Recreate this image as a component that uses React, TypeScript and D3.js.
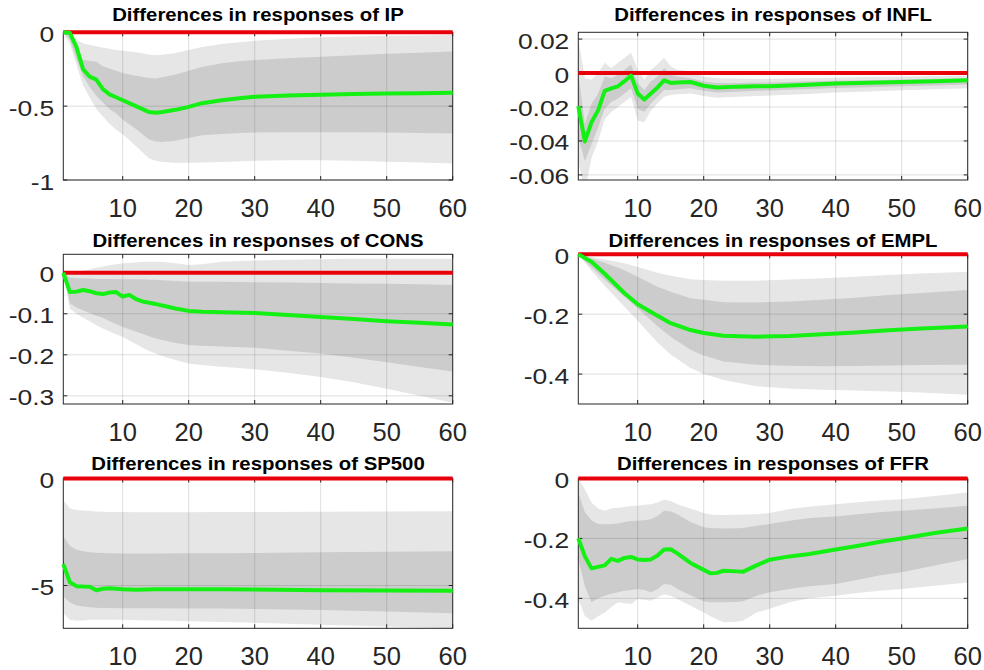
import React from "react";
import * as d3 from "d3";

// ---- impulse response differences: median and 68% / 90% bands ----

const ipTitle = "Differences in responses of IP";
const ipH = [1, 2, 3, 4, 5, 6, 7, 8, 9, 10, 12, 14, 15, 16, 18, 20, 22, 25, 28, 30, 35, 40, 45, 50, 55, 60];
const ipMid = [0, -0.005, -0.1, -0.25, -0.3, -0.32, -0.385, -0.42, -0.44, -0.46, -0.5, -0.54, -0.545, -0.54, -0.525, -0.505, -0.48, -0.46, -0.445, -0.437, -0.428, -0.422, -0.418, -0.414, -0.412, -0.41];
const ipHi68 = [0, -0.03, -0.12, -0.185, -0.195, -0.2, -0.23, -0.245, -0.26, -0.275, -0.295, -0.31, -0.312, -0.305, -0.285, -0.26, -0.235, -0.21, -0.195, -0.188, -0.175, -0.165, -0.155, -0.145, -0.138, -0.13];
const ipLo68 = [0, -0.05, -0.18, -0.3, -0.37, -0.43, -0.475, -0.52, -0.55, -0.59, -0.655, -0.725, -0.74, -0.742, -0.735, -0.715, -0.697, -0.688, -0.682, -0.678, -0.677, -0.677, -0.677, -0.678, -0.682, -0.685];
const ipHi90 = [0, -0.02, -0.05, -0.075, -0.085, -0.095, -0.105, -0.112, -0.12, -0.125, -0.135, -0.15, -0.155, -0.152, -0.14, -0.12, -0.1, -0.08, -0.065, -0.057, -0.043, -0.034, -0.028, -0.024, -0.021, -0.018];
const ipLo90 = [0, -0.08, -0.22, -0.36, -0.44, -0.52, -0.57, -0.62, -0.66, -0.69, -0.77, -0.855, -0.87, -0.878, -0.883, -0.884, -0.882, -0.878, -0.873, -0.87, -0.866, -0.866, -0.87, -0.876, -0.882, -0.888];
const ipDomain = [-1, 0];
const ipTicks = [-1, -0.5, 0];

const inflTitle = "Differences in responses of INFL";
const inflH = [1, 2, 3, 4, 5, 6, 7, 8, 9, 10, 11, 12, 13, 14, 15, 16, 18, 20, 22, 25, 28, 30, 35, 40, 45, 50, 55, 60];
const inflMid = [-0.0195, -0.0403, -0.029, -0.022, -0.0105, -0.009, -0.0078, -0.0048, -0.0015, -0.012, -0.0156, -0.012, -0.0085, -0.0043, -0.0058, -0.0055, -0.0053, -0.0075, -0.0085, -0.008, -0.0078, -0.0078, -0.007, -0.0062, -0.0057, -0.0053, -0.0048, -0.0043];
const inflHi68 = [0.0, -0.03, -0.018, -0.012, -0.002, -0.003, -0.001, 0.002, 0.005, -0.006, -0.01, -0.005, -0.002, 0.003, -0.001, -0.002, -0.003, -0.005, -0.0058, -0.0058, -0.0056, -0.0055, -0.005, -0.0045, -0.0042, -0.0038, -0.0034, -0.003];
const inflLo68 = [-0.038, -0.052, -0.042, -0.032, -0.021, -0.017, -0.015, -0.012, -0.009, -0.021, -0.023, -0.018, -0.014, -0.01, -0.01, -0.0095, -0.009, -0.0105, -0.0115, -0.011, -0.0105, -0.0103, -0.0095, -0.0088, -0.0083, -0.0078, -0.0073, -0.0068];
const inflHi90 = [0.02, -0.003, -0.004, 0.0, 0.006, 0.003, 0.006, 0.009, 0.012, 0.002, -0.004, 0.002, 0.005, 0.009, 0.004, 0.002, 0.001, -0.002, -0.003, -0.0032, -0.0033, -0.0033, -0.003, -0.0027, -0.0024, -0.0021, -0.0018, -0.0015];
const inflLo90 = [-0.052, -0.07, -0.05, -0.04, -0.027, -0.023, -0.02, -0.017, -0.014, -0.028, -0.029, -0.022, -0.018, -0.014, -0.013, -0.0125, -0.012, -0.0135, -0.0145, -0.014, -0.0135, -0.0133, -0.0125, -0.0115, -0.0108, -0.0101, -0.0095, -0.009];
const inflDomain = [-0.063, 0.024];
const inflTicks = [-0.06, -0.04, -0.02, 0, 0.02];

const consTitle = "Differences in responses of CONS";
const consH = [1, 2, 3, 4, 5, 6, 7, 8, 9, 10, 11, 12, 13, 14, 15, 16, 18, 20, 22, 25, 30, 35, 40, 45, 50, 55, 60];
const consMid = [0, -0.047, -0.046, -0.042, -0.045, -0.05, -0.052, -0.048, -0.047, -0.058, -0.054, -0.064, -0.07, -0.073, -0.076, -0.08, -0.087, -0.093, -0.095, -0.096, -0.098, -0.103, -0.108, -0.113, -0.118, -0.122, -0.126];
const consHi68 = [0, -0.012, -0.013, -0.014, -0.014, -0.015, -0.015, -0.015, -0.015, -0.016, -0.016, -0.016, -0.016, -0.017, -0.017, -0.018, -0.02, -0.022, -0.022, -0.022, -0.023, -0.024, -0.025, -0.026, -0.027, -0.028, -0.03];
const consLo68 = [0, -0.075, -0.085, -0.092, -0.098, -0.105, -0.11, -0.118, -0.125, -0.132, -0.138, -0.143, -0.149, -0.155, -0.16, -0.164, -0.171, -0.176, -0.178, -0.18, -0.183, -0.19, -0.197, -0.207, -0.218, -0.23, -0.241];
const consHi90 = [0, -0.002, 0.002, 0.005, 0.008, 0.012, 0.015, 0.018, 0.021, 0.023, 0.024, 0.025, 0.026, 0.027, 0.027, 0.026, 0.023, 0.019, 0.021, 0.027, 0.03, 0.032, 0.033, 0.034, 0.034, 0.034, 0.034];
const consLo90 = [0, -0.088, -0.1, -0.11, -0.118, -0.128, -0.136, -0.143, -0.15, -0.156, -0.165, -0.174, -0.183, -0.191, -0.197, -0.203, -0.213, -0.221, -0.225, -0.229, -0.235, -0.244, -0.254, -0.267, -0.283, -0.3, -0.317];
const consDomain = [-0.32, 0.045];
const consTicks = [-0.3, -0.2, -0.1, 0];

const emplTitle = "Differences in responses of EMPL";
const emplH = [1, 3, 5, 8, 10, 13, 15, 18, 20, 23, 28, 33, 38, 43, 48, 53, 60];
const emplMid = [0, -0.025, -0.065, -0.13, -0.167, -0.205, -0.23, -0.253, -0.263, -0.272, -0.275, -0.273, -0.267, -0.261, -0.254, -0.248, -0.241];
const emplHi68 = [0, -0.014, -0.028, -0.053, -0.075, -0.108, -0.125, -0.147, -0.152, -0.16, -0.161, -0.158, -0.152, -0.145, -0.136, -0.129, -0.119];
const emplLo68 = [0, -0.044, -0.085, -0.142, -0.18, -0.24, -0.275, -0.319, -0.338, -0.358, -0.369, -0.372, -0.374, -0.373, -0.371, -0.37, -0.369];
const emplHi90 = [0, -0.009, -0.017, -0.03, -0.042, -0.062, -0.072, -0.083, -0.086, -0.088, -0.088, -0.084, -0.08, -0.075, -0.069, -0.064, -0.058];
const emplLo90 = [0, -0.055, -0.105, -0.175, -0.222, -0.295, -0.335, -0.38, -0.4, -0.42, -0.441, -0.448, -0.452, -0.455, -0.458, -0.462, -0.469];
const emplDomain = [-0.5, 0];
const emplTicks = [-0.4, -0.2, 0];

const spTitle = "Differences in responses of SP500";
const spH = [1, 2, 3, 4, 5, 6, 7, 8, 10, 12, 15, 20, 25, 30, 40, 50, 60];
const spMid = [-4.0, -4.85, -5.03, -5.05, -5.06, -5.22, -5.15, -5.13, -5.18, -5.2, -5.17, -5.17, -5.18, -5.19, -5.22, -5.23, -5.24];
const spHi68 = [-2.7, -3.15, -3.33, -3.4, -3.45, -3.47, -3.48, -3.49, -3.5, -3.5, -3.5, -3.49, -3.49, -3.48, -3.45, -3.42, -3.4];
const spLo68 = [-5.5, -5.8, -5.93, -5.98, -6.02, -6.04, -6.05, -6.05, -6.06, -6.06, -6.06, -6.07, -6.08, -6.1, -6.15, -6.22, -6.3];
const spHi90 = [-1.0, -1.4, -1.47, -1.5, -1.52, -1.54, -1.55, -1.56, -1.57, -1.58, -1.58, -1.58, -1.57, -1.56, -1.55, -1.54, -1.53];
const spLo90 = [-6.3, -6.6, -6.65, -6.63, -6.6, -6.6, -6.6, -6.6, -6.6, -6.62, -6.64, -6.67, -6.7, -6.74, -6.83, -6.92, -7.0];
const spDomain = [-7, 0];
const spTicks = [-5, 0];

const ffrTitle = "Differences in responses of FFR";
const ffrH = [1, 2, 3, 4, 5, 6, 7, 8, 9, 10, 11, 12, 13, 14, 15, 16, 18, 20, 21, 22, 23, 25, 26, 28, 30, 33, 36, 40, 43, 47, 50, 55, 60];
const ffrMid = [-0.2, -0.26, -0.3, -0.295, -0.29, -0.268, -0.275, -0.265, -0.262, -0.27, -0.272, -0.27, -0.257, -0.237, -0.236, -0.25, -0.282, -0.305, -0.316, -0.315, -0.308, -0.31, -0.311, -0.29, -0.271, -0.26, -0.252, -0.237, -0.226, -0.21, -0.2, -0.182, -0.167];
const ffrHi68 = [-0.047, -0.113, -0.14, -0.152, -0.153, -0.152, -0.15, -0.145, -0.142, -0.141, -0.139, -0.136, -0.125, -0.108, -0.11, -0.119, -0.145, -0.163, -0.165, -0.166, -0.167, -0.166, -0.165, -0.158, -0.152, -0.141, -0.132, -0.127, -0.12, -0.112, -0.108, -0.1, -0.091];
const ffrLo68 = [-0.269, -0.36, -0.413, -0.4, -0.391, -0.385, -0.38, -0.375, -0.372, -0.369, -0.372, -0.38, -0.37, -0.352, -0.355, -0.369, -0.39, -0.41, -0.413, -0.413, -0.413, -0.412, -0.41, -0.391, -0.38, -0.369, -0.36, -0.352, -0.34, -0.322, -0.313, -0.29, -0.269];
const ffrHi90 = [0, -0.036, -0.08, -0.1, -0.108, -0.1, -0.098, -0.095, -0.092, -0.091, -0.088, -0.086, -0.08, -0.071, -0.075, -0.086, -0.1, -0.115, -0.12, -0.122, -0.122, -0.121, -0.12, -0.119, -0.115, -0.102, -0.094, -0.086, -0.08, -0.073, -0.069, -0.058, -0.047];
const ffrLo90 = [-0.402, -0.46, -0.475, -0.46, -0.447, -0.43, -0.413, -0.416, -0.419, -0.402, -0.405, -0.408, -0.397, -0.386, -0.392, -0.402, -0.425, -0.447, -0.46, -0.47, -0.48, -0.478, -0.474, -0.447, -0.435, -0.413, -0.4, -0.391, -0.383, -0.374, -0.369, -0.358, -0.347];
const ffrDomain = [-0.5, 0];
const ffrTicks = [-0.4, -0.2, 0];

const xDomain = [1, 60];
const xTicks = [10, 20, 30, 40, 50, 60];

// ---- layout ----
const W = 984;
const H = 670;
const COLS = [
  { x0: 63.3, x1: 452.7 },
  { x0: 578.3, x1: 967.7 },
];
const ROWS = [
  { y0: 32.3, y1: 180, title: 21 },
  { y0: 254.3, y1: 404, title: 246.5 },
  { y0: 478.5, y1: 628.3, title: 470 },
];

const FONT = "'Liberation Sans', Arial, Helvetica, sans-serif";
const AX = "#262626";
const LIGHT = "#e6e6e6";
const DARK = "#cccccc";
const RED = "#e8000b";
const GREEN = "#14f014";

type Series = {
  title: string;
  h: number[];
  mid: number[];
  hi68: number[];
  lo68: number[];
  hi90: number[];
  lo90: number[];
  domain: number[];
  ticks: number[];
};

const panels: Series[] = [
  { title: ipTitle, h: ipH, mid: ipMid, hi68: ipHi68, lo68: ipLo68, hi90: ipHi90, lo90: ipLo90, domain: ipDomain, ticks: ipTicks },
  { title: inflTitle, h: inflH, mid: inflMid, hi68: inflHi68, lo68: inflLo68, hi90: inflHi90, lo90: inflLo90, domain: inflDomain, ticks: inflTicks },
  { title: consTitle, h: consH, mid: consMid, hi68: consHi68, lo68: consLo68, hi90: consHi90, lo90: consLo90, domain: consDomain, ticks: consTicks },
  { title: emplTitle, h: emplH, mid: emplMid, hi68: emplHi68, lo68: emplLo68, hi90: emplHi90, lo90: emplLo90, domain: emplDomain, ticks: emplTicks },
  { title: spTitle, h: spH, mid: spMid, hi68: spHi68, lo68: spLo68, hi90: spHi90, lo90: spLo90, domain: spDomain, ticks: spTicks },
  { title: ffrTitle, h: ffrH, mid: ffrMid, hi68: ffrHi68, lo68: ffrLo68, hi90: ffrHi90, lo90: ffrLo90, domain: ffrDomain, ticks: ffrTicks },
];

function Stretched({ x, y, sx, anchor, size, weight, fill, children }: any) {
  return (
    <text
      transform={`translate(${x},${y}) scale(${sx},1)`}
      textAnchor={anchor}
      fontSize={size}
      fontWeight={weight}
      fontFamily={FONT}
      fill={fill}
    >
      {children}
    </text>
  );
}

function Panel({ s, idx }: { s: Series; idx: number }) {
  const col = COLS[idx % 2];
  const row = ROWS[Math.floor(idx / 2)];
  const x = d3.scaleLinear().domain(xDomain).range([col.x0, col.x1]);
  const y = d3.scaleLinear().domain(s.domain).range([row.y1, row.y0]);
  const idxs = d3.range(s.h.length);

  const band = (lo: number[], hi: number[]) =>
    d3
      .area<number>()
      .x((i) => x(s.h[i]))
      .y0((i) => y(lo[i]))
      .y1((i) => y(hi[i]))(idxs) || "";
  const line = d3
    .line<number>()
    .x((i) => x(s.h[i]))
    .y((i) => y(s.mid[i]))(idxs) || "";

  const clipId = `clip-${idx}`;
  const tl = 4;
  return (
    <g>
      <defs>
        <clipPath id={clipId}>
          <rect x={col.x0} y={row.y0} width={col.x1 - col.x0} height={row.y1 - row.y0} />
        </clipPath>
      </defs>
      <g clipPath={`url(#${clipId})`}>
        <path d={band(s.lo90, s.hi90)} fill={LIGHT} />
        <path d={band(s.lo68, s.hi68)} fill={DARK} />
      </g>
      {/* grid */}
      <g stroke={AX} strokeOpacity={0.15} strokeWidth={1}>
        {xTicks.map((t) => (
          <line key={`gx${t}`} x1={x(t)} x2={x(t)} y1={row.y0} y2={row.y1} />
        ))}
        {s.ticks.map((t) => (
          <line key={`gy${t}`} x1={col.x0} x2={col.x1} y1={y(t)} y2={y(t)} />
        ))}
      </g>
      {/* axes box and inward ticks */}
      <rect
        x={col.x0}
        y={row.y0}
        width={col.x1 - col.x0}
        height={row.y1 - row.y0}
        fill="none"
        stroke={AX}
        strokeWidth={1}
      />
      <g stroke={AX} strokeWidth={1}>
        {xTicks.map((t) => (
          <g key={`tx${t}`}>
            <line x1={x(t)} x2={x(t)} y1={row.y1} y2={row.y1 - tl} />
            <line x1={x(t)} x2={x(t)} y1={row.y0} y2={row.y0 + tl} />
          </g>
        ))}
        {s.ticks.map((t) => (
          <g key={`ty${t}`}>
            <line x1={col.x0} x2={col.x0 + tl} y1={y(t)} y2={y(t)} />
            <line x1={col.x1} x2={col.x1 - tl} y1={y(t)} y2={y(t)} />
          </g>
        ))}
      </g>
      {/* zero line and median response */}
      <line x1={col.x0} x2={col.x1} y1={y(0)} y2={y(0)} stroke={RED} strokeWidth={4} />
      <path d={line} fill="none" stroke={GREEN} strokeWidth={4} strokeLinejoin="round" />
      {/* tick labels */}
      {s.ticks.map((t) => (
        <Stretched key={`ly${t}`} x={col.x0 - 9} y={y(t) + 9.5} sx={1.2} anchor="end" size={22} fill={AX}>
          {String(t)}
        </Stretched>
      ))}
      {xTicks.map((t) => (
        <Stretched key={`lx${t}`} x={x(t)} y={row.y1 + 37} sx={1} anchor="middle" size={25.5} fill={AX}>
          {String(t)}
        </Stretched>
      ))}
      <Stretched x={(col.x0 + col.x1) / 2} y={row.title} sx={1.1} anchor="middle" size={18.5} weight="bold" fill="#000">
        {s.title}
      </Stretched>
    </g>
  );
}

export default function App() {
  return (
    <svg
      width={W}
      height={H}
      viewBox={`0 0 ${W} ${H}`}
      style={{ position: "absolute", left: 0, top: 0, background: "#fff" }}
    >
      <rect width={W} height={H} fill="#fff" />
      {panels.map((s, i) => (
        <Panel key={s.title} s={s} idx={i} />
      ))}
    </svg>
  );
}
